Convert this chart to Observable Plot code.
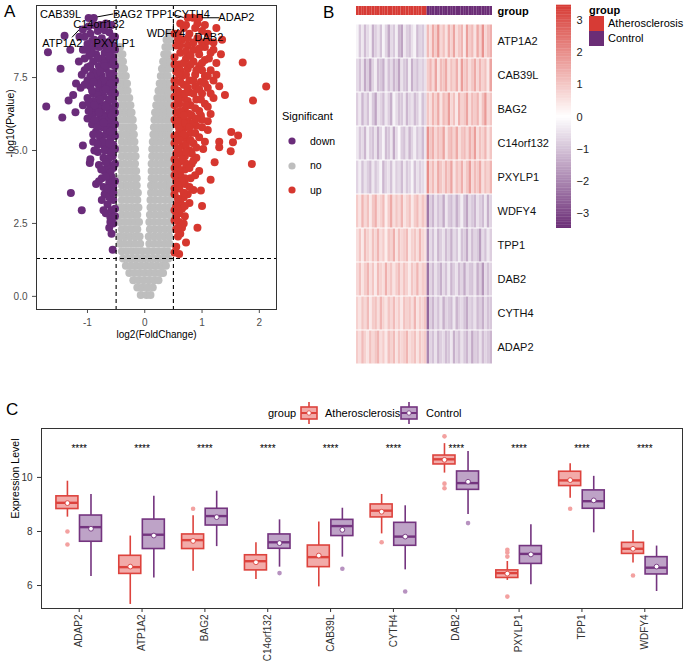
<!DOCTYPE html>
<html><head><meta charset="utf-8">
<script src="https://cdn.jsdelivr.net/npm/d3@7"></script>
<script src="https://cdn.jsdelivr.net/npm/@observablehq/plot@0.6"></script>
<style>
body{margin:0;background:#fff;}
#root{position:relative;width:685px;height:662px;overflow:hidden;font-family:'Liberation Sans',Arial,Helvetica,sans-serif;background:#fff;}
#root svg{position:absolute;}
.lab{position:absolute;white-space:nowrap;color:#000;line-height:1;}
</style></head><body><div id="root"></div>
<script>
// ---------------- Panel A: volcano data ----------------
// grey ("no") points: each row = [-log10(P), log2FC values...]
const greyRows = [
 [0.05,-0.07,0.03,0.1],
 [0.3,-0.13,-0.04,0.05,0.14],
 [0.55,-0.2,-0.11,-0.02,0.07,0.16,0.24],
 [0.8,-0.27,-0.18,-0.09,0.0,0.09,0.18,0.27,0.32],
 [1.05,-0.33,-0.24,-0.15,-0.06,0.03,0.12,0.21,0.3,0.37],
 [1.3,-0.38,-0.29,-0.2,-0.11,-0.02,0.07,0.16,0.25,0.34,0.41],
 [1.55,-0.4,-0.31,-0.22,-0.13,-0.04,0.05,0.14,0.23,0.32,0.4],
 [1.8,-0.43,-0.35,-0.26,-0.17,-0.08,0.08,0.17,0.26,0.35,0.43],
 [2.05,-0.44,-0.35,-0.26,-0.17,-0.09,0.07,0.16,0.25,0.34,0.43],
 [2.3,-0.4,-0.31,-0.22,-0.13,0.09,0.18,0.27,0.36,0.44],
 [2.55,-0.44,-0.35,-0.26,-0.17,-0.1,0.08,0.16,0.25,0.34,0.43],
 [2.8,-0.4,-0.31,-0.22,-0.13,0.09,0.18,0.27,0.36,0.44],
 [3.05,-0.44,-0.35,-0.26,-0.17,-0.11,0.1,0.16,0.25,0.34,0.43],
 [3.3,-0.4,-0.31,-0.22,-0.13,0.1,0.18,0.27,0.36,0.44],
 [3.55,-0.44,-0.35,-0.26,-0.17,-0.12,0.11,0.19,0.28,0.36,0.43],
 [3.8,-0.4,-0.31,-0.22,-0.14,0.11,0.18,0.27,0.36,0.44],
 [4.05,-0.44,-0.35,-0.26,-0.17,-0.14,0.12,0.19,0.28,0.36,0.43],
 [4.3,-0.4,-0.31,-0.22,-0.15,0.12,0.2,0.28,0.36,0.44],
 [4.55,-0.44,-0.35,-0.26,-0.17,0.12,0.2,0.28,0.36,0.43],
 [4.8,-0.4,-0.31,-0.23,-0.16,0.13,0.21,0.29,0.37,0.44],
 [5.05,-0.44,-0.35,-0.26,-0.17,0.13,0.2,0.28,0.36,0.43],
 [5.3,-0.4,-0.31,-0.24,-0.18,0.14,0.21,0.29,0.37,0.44],
 [5.55,-0.44,-0.35,-0.27,-0.19,0.15,0.22,0.3,0.37,0.43],
 [5.8,-0.4,-0.32,-0.25,-0.2,0.16,0.23,0.3,0.37,0.44],
 [6.05,-0.44,-0.36,-0.28,-0.21,0.17,0.24,0.31,0.38,0.43],
 [6.3,-0.41,-0.33,-0.26,-0.23,0.18,0.25,0.32,0.38,0.44],
 [6.55,-0.44,-0.36,-0.28,-0.25,0.2,0.27,0.33,0.39,0.43],
 [6.8,-0.41,-0.34,-0.27,0.22,0.28,0.34,0.4,0.44],
 [7.05,-0.44,-0.37,-0.3,0.24,0.3,0.36,0.41],
 [7.3,-0.42,-0.36,-0.31,0.26,0.32,0.38,0.44],
 [7.55,-0.44,-0.38,-0.33,0.28,0.34,0.4],
 [7.8,-0.42,-0.36,0.3,0.36,0.42],
 [8.05,-0.44,-0.38,0.32,0.38,0.44],
 [8.3,-0.42,-0.39,0.34,0.4],
 [8.55,-0.43,0.36,0.42],
 [8.8,0.38,0.44],
 [9.0,0.42]
];
// down-regulated points [log2FC, -log10P]
const downPairs = [
 [-0.98,9.54],[-0.89,9.54],[-0.82,9.1],[-0.7,9.12],[-0.62,9.05],[-0.95,9.0],[-1.05,8.9],[-1.14,8.9],[-1.4,8.93],[-1.3,8.45],
 [-0.56,8.9],[-0.75,8.85],[-0.88,8.8],[-0.66,8.7],[-0.55,8.6],[-1.0,8.65],[-0.92,8.5],[-0.8,8.55],[-0.6,8.4],[-0.7,8.35],
 [-1.08,8.45],[-0.85,8.3],[-0.97,8.25],[-0.55,8.2],[-0.65,8.1],[-0.75,8.15],[-1.05,8.15],[-1.15,8.05],[-0.9,8.05],[-0.58,7.95],
 [-0.8,7.9],[-1.0,7.85],[-0.68,7.8],[-0.9,7.7],[-1.1,7.6],[-0.55,7.65],[-0.75,7.55],[-0.62,7.45],[-0.85,7.45],[-1.0,7.4],
 [-0.95,7.2],[-0.7,7.25],[-0.55,7.2],[-0.8,7.1],[-1.12,7.15],[-0.6,7.0],[-0.9,6.95],[-0.72,6.85],[-1.0,6.8],[-0.55,6.75],
 [-0.82,6.65],[-0.65,6.6],[-0.95,6.5],[-1.08,6.55],[-0.58,6.4],[-0.75,6.4],[-0.88,6.3],[-0.68,6.2],[-0.55,6.1],[-0.8,6.05],
 [-1.0,6.1],[-0.92,5.9],[-0.62,5.9],[-0.74,5.8],[-0.55,5.7],[-0.85,5.65],[-0.68,5.55],[-0.6,5.4],[-0.78,5.4],[-0.9,5.3],
 [-0.55,5.2],[-0.7,5.15],[-0.62,5.0],[-0.82,4.95],[-0.56,4.8],[-0.72,4.75],[-0.95,4.7],[-0.64,4.55],[-0.8,4.5],[-0.55,4.4],
 [-0.7,4.3],[-0.58,4.1],[-0.75,4.05],[-0.62,3.9],[-0.55,3.75],[-0.72,3.75],[-0.85,3.85],[-0.6,3.55],[-0.7,3.5],[-0.55,3.3],
 [-0.65,3.15],[-0.58,2.95],[-0.72,2.95],[-0.6,2.7],[-0.55,2.5],[-0.62,2.35],[-0.58,2.15],[-0.56,1.6],
 [-0.52,8.9],[-0.6,8.75],[-0.72,8.6],[-0.85,8.65],[-0.95,8.35],[-0.62,8.25],[-0.52,8.45],[-0.72,8.0],[-0.52,7.9],[-0.85,7.65],
 [-0.95,7.55],[-0.62,7.65],[-0.52,7.4],[-0.72,7.4],[-0.82,7.3],[-0.62,7.2],[-0.52,6.95],[-0.72,7.05],[-0.82,6.9],[-0.62,6.75],
 [-0.9,6.7],[-0.52,6.55],[-0.72,6.55],[-0.62,6.4],[-0.82,6.45],[-0.52,6.3],[-0.92,6.2],[-0.72,6.15],[-0.62,6.05],[-0.52,5.9],
 [-0.82,5.85],[-0.66,5.7],[-0.52,5.5],[-0.8,5.55],[-0.72,5.3],[-0.52,5.05],[-0.62,4.75],[-0.52,4.55],[-0.66,4.4],[-0.52,3.95],
 [-0.65,3.7],[-0.52,3.0],[-0.52,2.75],
 [-0.58,9.3],[-0.68,9.35],[-0.78,9.3],[-0.88,9.3],[-0.98,9.25],[-1.08,9.15],
 [-0.55,8.05],[-0.65,8.5],[-0.78,8.75],[-0.92,8.75],[-1.02,8.45],[-0.82,8.15],[-0.7,7.9],[-0.78,7.7],[-0.95,7.9],[-1.05,7.75],
 [-0.6,7.3],[-0.9,7.35],[-1.05,7.25],[-0.68,7.1],[-0.92,7.05],[-0.78,6.75],[-0.98,6.65],[-0.68,6.5],[-0.88,6.55],[-0.58,6.2],
 [-0.8,6.3],[-0.98,6.35],[-0.88,6.05],[-0.72,5.95],[-0.6,5.65],[-0.9,5.55],[-0.62,5.25],[-0.82,5.2],[-0.7,5.0],[-0.58,4.95],[-0.88,5.0],
 [-0.68,4.6],[-0.76,4.35],[-0.6,4.25],[-0.68,4.1],[-0.8,3.95],[-0.58,3.6],[-0.62,3.4],[-0.75,3.3],[-0.55,3.55],[-0.68,2.85],[-0.6,2.55],
 [-1.69,8.37],[-1.47,7.8],[-1.72,6.51],[-1.33,6.71],[-1.44,6.13],[-1.21,6.31],[-1.29,3.54],[-1.1,2.95],[-0.96,4.57],[-1.08,5.17],
 [-1.2,7.3],[-1.25,6.9]
];
// up-regulated points [log2FC, -log10P]
const upPairs = [
 [0.75,9.55],[0.84,9.55],[0.95,9.55],[0.68,9.2],[0.88,9.2],[1.0,9.1],[0.58,9.0],[0.78,9.0],[1.1,9.0],[0.65,8.8],
 [0.92,8.85],[1.2,8.7],[0.55,8.6],[0.75,8.6],[1.05,8.55],[0.85,8.45],[0.62,8.35],[0.95,8.3],[1.15,8.35],[0.52,8.2],
 [0.72,8.15],[1.05,8.1],[0.85,8.05],[1.25,8.0],[0.6,7.95],[0.95,7.9],[0.75,7.8],[1.15,7.75],[0.55,7.7],[0.88,7.6],
 [1.05,7.55],[0.65,7.55],[0.78,7.4],[0.52,7.4],[0.98,7.35],[1.2,7.4],[0.68,7.25],[0.88,7.2],[1.1,7.15],[0.58,7.05],
 [0.78,7.0],[1.0,6.95],[0.52,6.85],[0.68,6.8],[0.9,6.75],[1.2,6.8],[0.6,6.6],[0.8,6.55],[1.05,6.6],[0.7,6.4],
 [0.95,6.35],[0.55,6.3],[0.82,6.2],[1.15,6.25],[0.62,6.1],[0.75,6.0],[1.0,6.05],[0.55,5.9],[0.9,5.85],[0.68,5.75],
 [0.8,5.6],[1.1,5.7],[0.58,5.55],[0.72,5.4],[0.95,5.45],[0.52,5.25],[0.85,5.25],[0.65,5.15],[0.78,5.0],[1.02,5.05],
 [0.55,4.9],[0.7,4.8],[0.9,4.75],[0.6,4.6],[0.82,4.55],[0.52,4.4],[0.7,4.35],[0.95,4.3],[0.62,4.15],[0.8,4.05],
 [0.55,3.95],[0.7,3.85],[0.6,3.7],[0.85,3.65],[0.52,3.5],[0.68,3.4],[0.78,3.2],[0.58,3.2],[0.65,3.0],[0.52,2.95],
 [0.7,2.75],[0.6,2.55],[0.55,2.3],[0.65,2.35],[0.58,2.05],[0.72,1.85],[0.55,1.7],[0.6,1.45],[0.52,1.5],
 [0.52,9.0],[0.62,8.6],[0.85,8.7],[1.0,8.7],[0.72,8.4],[0.52,7.95],[0.8,7.95],[0.62,7.75],[1.0,7.75],[0.72,7.6],
 [0.52,7.15],[0.62,6.95],[0.85,6.95],[0.75,6.7],[0.52,6.55],[0.62,6.35],[0.88,6.45],[0.52,6.05],[0.68,5.95],[0.85,5.95],
 [0.62,5.7],[0.52,5.5],[0.72,5.2],[0.62,4.9],[0.82,4.9],[0.52,4.7],[0.72,4.55],[0.6,4.35],[0.52,4.15],[0.7,4.05],
 [0.6,3.9],[0.52,3.7],[0.75,3.5],[0.62,3.25],[0.55,3.1],[0.52,2.6],[0.62,2.15],
 [0.62,9.35],[0.72,9.3],[0.92,9.35],[1.05,9.3],[0.58,8.8],[0.75,8.85],[1.1,8.75],[0.95,8.5],[1.2,8.45],[0.8,8.25],[1.12,8.15],[0.68,8.0],[1.0,8.0],
 [0.9,7.75],[1.1,7.55],[1.25,7.6],[0.6,7.6],[0.85,7.4],[0.62,7.35],[1.05,7.3],[0.75,7.15],[0.95,7.1],[1.15,6.95],[0.7,6.95],[0.58,6.75],[0.98,6.75],
 [1.1,6.5],[0.72,6.55],[0.78,6.25],[0.98,6.2],[0.68,6.2],[0.9,6.1],[0.58,6.0],[1.1,6.0],[0.78,5.8],[1.0,5.8],[0.6,5.75],[0.88,5.6],[0.68,5.55],
 [0.8,5.35],[1.05,5.3],[0.6,5.35],[0.9,5.1],[0.58,5.05],[0.72,4.95],[0.65,4.7],[0.85,4.65],[0.78,4.4],[0.55,4.55],[0.88,4.15],[0.65,3.95],
 [0.58,3.8],[0.78,3.75],[0.68,3.55],[0.58,3.35],[0.7,3.1],[0.6,2.85],[0.55,2.75],[0.68,2.5],[0.58,2.35],
 [2.12,7.19],[1.89,6.71],[1.71,8.02],[1.33,8.3],[1.87,4.54],[1.5,4.97],[1.54,5.28],[1.3,5.3],[1.22,4.6],[0.98,3.63],
 [0.92,2.35],[1.51,5.63],[1.63,5.51],[1.3,5.11],[1.4,6.9],[1.3,7.2],[1.35,8.8],[1.25,9.2],[1.15,4.0],[1.0,3.1]
];
const volcLabels = ["CAB39L","BAG2","C14orf132","ATP1A2","PXYLP1","TPP1","CYTH4","ADAP2","WDFY4","DAB2"];
const volcLabelX = [-1.47,-0.30,-0.80,-1.44,-0.53,0.25,0.82,1.60,0.37,1.12];
const volcLabelY = [9.66,9.66,9.32,8.66,8.66,9.66,9.66,9.55,9.0,8.87];
const segX1 = [-0.83,-1.27,0.49,1.0,0.5];
const segY1 = [9.58,8.88,9.66,9.55,9.12];
const segX2 = [-0.55,-1.15,0.68,1.3,0.5];
const segY2 = [9.68,9.13,9.56,9.55,9.35];
const pCut = 1.3, fcCut = [-0.5, 0.5];
const xTicksA = [-1, 0, 1, 2];
const yTicksA = [0, 2.5, 5, 7.5];
const sigLevels = ["down", "no", "up"];

// ---------------- Panel B: heatmap data (z-scores) ----------------
const heatGenes = ["ATP1A2","CAB39L","BAG2","C14orf132","PXYLP1","WDFY4","TPP1","DAB2","CYTH4","ADAP2"];
const heatAth = [
 [-0.2,-0.9,-0.4,-1.1,-0.6,-0.3,-1.3,-0.8,-0.5,-1.0,-0.2,-0.7,-1.4,-0.6,-0.9,-0.3,-1.2,-1.5,-0.4,-0.8,-1.0,-0.5,-0.2,-1.1,-0.7,-0.9,-0.4],
 [-0.6,-1.0,-0.5,-1.4,-0.8,-1.6,-0.7,-0.3,-1.1,-0.9,-1.3,-0.4,-1.0,-0.6,-1.2,-0.8,-1.5,-0.5,-0.9,-1.1,-0.3,-1.3,-0.7,-1.0,-0.6,-0.8,-0.5],
 [-0.8,-0.4,-1.2,-0.6,-1.0,-0.3,-0.9,-1.5,-0.5,-0.7,-1.1,-0.4,-0.8,-1.3,-0.2,-0.6,-1.0,-0.9,-0.4,-1.2,-0.7,-0.5,-1.1,-0.8,-0.3,-1.0,-0.6],
 [-0.4,-0.9,-0.6,-1.2,-0.3,-0.8,-1.0,-0.5,-1.3,-0.7,-0.2,-1.1,-0.9,-0.4,-1.4,-0.6,-0.1,-0.8,-1.0,-0.5,-1.2,-0.7,-0.3,-0.9,-0.6,-1.1,-0.4],
 [-0.7,-0.3,-1.0,-0.5,-0.8,-1.1,-0.4,-0.9,-0.6,-0.2,-1.2,-0.7,-0.5,-1.0,-0.3,-0.8,-0.6,-1.1,-0.4,-0.9,-0.7,-0.2,-1.0,-0.5,-0.8,-0.6,-0.3],
 [0.9,0.5,1.3,0.7,1.1,0.4,1.0,1.4,0.6,0.8,1.2,0.3,0.9,1.5,0.6,1.0,0.7,1.3,0.5,0.8,1.1,0.4,0.9,1.2,0.6,1.0,0.7],
 [0.6,1.0,0.4,1.2,0.8,0.5,1.1,0.7,1.3,0.6,0.9,0.3,1.0,0.8,1.4,0.5,1.1,0.7,0.9,1.2,0.4,0.8,1.0,0.6,1.3,0.7,0.5],
 [0.7,1.1,0.5,0.9,1.3,0.6,1.0,0.4,1.2,0.8,0.6,1.4,0.7,1.0,0.5,0.9,1.2,0.6,1.1,0.8,0.4,1.0,0.7,1.3,0.6,0.9,0.8],
 [0.8,0.5,1.0,0.7,1.2,0.4,0.9,1.1,0.6,1.3,0.8,0.5,1.0,0.7,1.2,0.6,0.9,0.4,1.1,0.8,1.0,0.6,1.3,0.5,0.9,0.7,1.0],
 [0.9,0.6,1.2,0.8,0.5,1.1,0.7,1.0,1.3,0.6,0.9,0.4,1.1,0.8,1.2,0.5,1.0,0.7,0.9,1.3,0.6,0.8,1.1,0.5,1.0,0.7,0.9]
];
const heatCtl = [
 [1.2,0.6,1.5,0.9,1.8,0.7,1.1,0.5,1.4,0.8,1.6,0.6,1.0,1.3,0.4,1.7,0.9,1.2,0.5,1.5,0.8,1.9,0.7,1.1,1.4],
 [0.9,1.3,0.7,1.6,0.5,1.2,1.0,1.5,0.6,1.1,0.8,1.4,0.5,1.7,0.9,1.2,0.6,1.0,1.5,0.7,1.3,0.8,1.1,0.4,1.6],
 [1.0,0.6,1.3,0.8,1.5,0.5,1.2,0.9,1.7,0.7,1.1,0.4,1.4,0.8,1.0,1.6,0.6,1.2,0.9,1.3,0.5,1.1,1.8,0.7,1.0],
 [1.9,1.0,1.4,0.7,1.2,0.9,1.6,0.5,1.1,1.3,0.8,1.5,0.6,1.0,1.2,0.7,1.4,0.9,1.7,0.6,1.1,0.8,1.3,0.5,1.0],
 [2.0,0.8,1.2,0.6,1.5,1.0,0.7,1.3,0.9,1.6,0.5,1.1,0.8,1.4,0.6,1.0,1.7,0.7,1.2,0.9,1.5,0.6,1.1,0.8,1.3],
 [-2.2,-0.8,-1.2,-0.5,-1.0,-0.7,-1.4,-0.4,-0.9,-1.1,-0.6,-1.3,-0.8,-0.3,-1.0,-1.5,-0.6,-0.9,-1.2,-0.5,-0.8,-1.1,-0.4,-1.3,-0.7],
 [-1.9,-0.6,-1.0,-0.4,-1.2,-0.8,-0.5,-1.1,-0.7,-1.3,-0.6,-0.9,-0.3,-1.0,-0.8,-1.4,-0.5,-1.1,-0.7,-0.9,-1.6,-0.6,-1.0,-0.4,-0.8],
 [-2.3,-0.7,-1.1,-0.5,-0.9,-1.3,-0.6,-1.0,-0.4,-1.2,-0.8,-0.5,-1.1,-0.7,-1.4,-0.6,-0.9,-1.0,-0.5,-1.3,-0.8,-1.7,-0.6,-1.0,-0.7],
 [-2.5,-0.8,-1.2,-0.6,-1.0,-0.5,-1.3,-0.7,-0.9,-1.1,-0.4,-1.2,-0.8,-0.6,-1.0,-1.4,-0.7,-0.9,-0.5,-1.1,-0.8,-1.3,-0.6,-1.0,-0.9],
 [-2.0,-0.7,-1.0,-0.5,-1.2,-0.8,-0.6,-1.1,-0.9,-0.4,-1.3,-0.7,-1.0,-0.5,-0.9,-1.2,-0.6,-1.4,-0.8,-1.0,-0.5,-1.1,-0.7,-0.9,-1.2]
];
const groups = ["Atherosclerosis", "Control"];
const cbTicks = [-3, -2, -1, 0, 1, 2, 3];

// ---------------- Panel C: boxplot summary data ----------------
const genesC = ["ADAP2","ATP1A2","BAG2","C14orf132","CAB39L","CYTH4","DAB2","PXYLP1","TPP1","WDFY4"];
const athLo   = [8.53,5.30,6.53,6.22,5.95,7.91,10.16,6.19,9.23,6.83];
const athQ1   = [8.83,6.43,7.35,6.56,6.68,8.52,10.48,6.28,9.68,7.17];
const athMed  = [9.06,6.68,7.68,6.90,7.05,8.77,10.67,6.46,9.89,7.36];
const athQ3   = [9.30,7.10,7.89,7.12,7.48,9.00,10.81,6.56,10.21,7.58];
const athHi   = [9.86,7.83,8.58,7.58,8.35,9.37,11.25,6.89,10.51,8.04];
const athMean = [9.05,6.70,7.65,6.86,7.11,8.73,10.65,6.44,9.90,7.36];
const athOut  = [[8.0,7.52],[],[8.84],[],[],[7.60],[11.52,9.77,9.60],[7.32,7.22,7.07,5.59],[8.84],[6.37]];
const ctlLo   = [6.33,6.28,7.44,6.68,7.05,6.58,8.63,6.03,7.95,5.78];
const ctlQ1   = [7.62,7.35,8.22,7.36,7.83,7.47,9.54,6.80,8.84,6.41];
const ctlMed  = [8.16,7.88,8.57,7.60,8.20,7.81,9.79,7.17,9.12,6.66];
const ctlQ3   = [8.59,8.44,8.84,7.89,8.43,8.32,10.22,7.46,9.52,7.05];
const ctlHi   = [9.37,9.30,9.49,8.43,8.86,8.95,10.96,8.25,10.04,7.46];
const ctlMean = [8.10,7.85,8.53,7.57,8.06,7.81,9.84,7.15,9.15,6.70];
const ctlOut  = [[],[],[],[6.46],[6.62],[5.78],[8.31],[],[],[]];
const sigLabel = "****";
const sigLevelY = 11.05;
const yTicksC = [6, 8, 10];
const xTicksC = [1,2,3,4,5,6,7,8,9,10];

// ---------------- styling ----------------
const FONT = "'Liberation Sans', Arial, Helvetica, sans-serif";
const PUR = "#6A2C7A", RED = "#D6372F", GREY = "#BEBEBE";
const HRED = "#D73B35", HPUR = "#6B2D76";
const C_RED_S = "#DD433D", C_RED_F = "#F2ABA9", C_RED_O = "#F3A1A0";
const C_PUR_S = "#74347F", C_PUR_F = "#BEA3C7", C_PUR_O = "#B792C0";
const root = document.getElementById("root");
function put(el, left, top){ el.style.position="absolute"; el.style.left=left+"px"; el.style.top=top+"px"; root.appendChild(el); return el; }
function lab(text, left, top, size, extra){ const d=document.createElement("div"); d.className="lab"; d.textContent=text; d.style.fontSize=size+"px"; if(extra) Object.assign(d.style, extra); return put(d,left,top); }
const baseStyle = {fontFamily: FONT, fontSize: "10px", background: "none", overflow: "visible", color: "#4d4d4d"};

// ---------------- Panel A ----------------
const greyPts = greyRows.flatMap(([v, ...xs]) => xs.map(x => ({x, y: v})));
const downPts = downPairs.map(([x, y]) => ({x, y}));
const upPts = upPairs.map(([x, y]) => ({x, y}));
const vLab = volcLabels.map((t, i) => ({t, x: volcLabelX[i], y: volcLabelY[i]}));
const segs = segX1.map((_, i) => ({x1: segX1[i], y1: segY1[i], x2: segX2[i], y2: segY2[i]}));
const A = Plot.plot({
  width: 280, height: 345, marginLeft: 36, marginRight: 4, marginTop: 5, marginBottom: 36,
  style: baseStyle,
  x: {domain: [-1.89, 2.3], ticks: xTicksA, tickFormat: d => String(d), tickSize: 4, label: null},
  y: {domain: [-0.45, 9.97], ticks: yTicksA, tickFormat: d3.format(".1f"), tickSize: 4, label: null},
  marks: [
    Plot.dot(greyPts, {x: "x", y: "y", r: 4, fill: GREY}),
    Plot.dot(downPts, {x: "x", y: "y", r: 4, fill: PUR}),
    Plot.dot(upPts, {x: "x", y: "y", r: 4, fill: RED}),
    Plot.ruleY([pCut], {stroke: "#000", strokeWidth: 1.1, strokeDasharray: "4,3"}),
    Plot.ruleX(fcCut, {stroke: "#000", strokeWidth: 1.1, strokeDasharray: "4,3"}),
    Plot.link(segs, {x1: "x1", y1: "y1", x2: "x2", y2: "y2", stroke: "#000", strokeWidth: 1}),
    Plot.text(vLab, {x: "x", y: "y", text: "t", fontSize: 11, fill: "#000"}),
    Plot.frame({stroke: "#333"}),
    Plot.text(["log2(FoldChange)"], {text: d => d, frameAnchor: "bottom", dy: 28, fontSize: 10, fill: "#000"}),
    Plot.text(["-log10(Pvalue)"], {text: d => d, frameAnchor: "left", rotate: -90, dx: -26, fontSize: 10.5, fill: "#000"})
  ]
});
put(A, 0, 0);
lab("A", 4, 3, 17);
// Significant legend
lab("Significant", 282, 111, 11);
const sigCols = [PUR, GREY, RED];
sigLevels.forEach((s, i) => {
  const y = 141 + i * 24.5;
  const svg = document.createElementNS("http://www.w3.org/2000/svg", "svg");
  svg.setAttribute("width", 10); svg.setAttribute("height", 10);
  svg.innerHTML = `<circle cx="5" cy="5" r="3.6" fill="${sigCols[i]}"/>`;
  put(svg, 287, y - 5);
  lab(s, 310, y - 5.5, 10.5);
});

// ---------------- Panel B ----------------
const nAth = heatAth[0].length, nCtl = heatCtl[0].length, nCol = nAth + nCtl;
const colDomain = d3.range(nCol);
const heat = heatGenes.flatMap((g, gi) => [
  ...heatAth[gi].map((v, j) => ({g, col: j, v})),
  ...heatCtl[gi].map((v, j) => ({g, col: nAth + j, v}))
]);
const colGroup = colDomain.map(c => ({col: c, grp: c < nAth ? groups[0] : groups[1]}));
const colorOpt = {type: "linear", domain: [-3.45, 0, 3.45], range: [HPUR, "#FFFFFF", HRED]};
const Bgrp = Plot.plot({
  width: 196, height: 9, marginLeft: 0, marginRight: 60, marginTop: 0, marginBottom: 0,
  style: {...baseStyle, fontSize: "11px", color: "#000"},
  x: {type: "band", domain: colDomain, padding: 0, axis: null},
  y: {type: "band", domain: ["group"], padding: 0, axis: "right", tickSize: 0, tickPadding: 5, label: null},
  color: {type: "ordinal", domain: groups, range: [HRED, HPUR]},
  marks: [Plot.cell(colGroup, {x: "col", y: () => "group", fill: "grp"})]
});
Bgrp.querySelectorAll("text").forEach(t => t.setAttribute("font-weight", "bold"));
put(Bgrp, 356, 6);
const B = Plot.plot({
  width: 196, height: 346, marginLeft: 0, marginRight: 60, marginTop: 0, marginBottom: 0,
  style: {...baseStyle, fontSize: "11px", color: "#111"},
  x: {type: "band", domain: colDomain, padding: 0, axis: null},
  y: {type: "band", domain: heatGenes, padding: 0, axis: "right", tickSize: 0, tickPadding: 5, label: null},
  color: colorOpt,
  marks: [Plot.cell(heat, {x: "col", y: "g", fill: "v", insetTop: 0.5, insetBottom: 0.5})]
});
put(B, 356, 21);
lab("B", 323, 4, 17);
// colour bar
const rampStep = 0.05;
const ramp = d3.range(-3.45, 3.45, rampStep);
const minusFmt = d => d < 0 ? "\u2212" + Math.abs(d) : String(d);
const CB = Plot.plot({
  width: 60, height: 233, marginLeft: 6, marginRight: 39, marginTop: 5, marginBottom: 5,
  style: {...baseStyle, fontSize: "11px", color: "#222"},
  x: {domain: [0, 1], axis: null},
  y: {domain: [-3.45, 3.45], ticks: cbTicks, tickFormat: minusFmt, tickSize: 0, tickPadding: 5, axis: "right", label: null},
  color: colorOpt,
  marks: [Plot.rect(ramp, {x1: () => 0, x2: () => 1, y1: d => d, y2: d => d + rampStep + 0.01, fill: d => d + rampStep / 2})]
});
put(CB, 550, 0);
// group legend
lab("group", 589, 5, 11, {fontWeight: "bold"});
[HRED, HPUR].forEach((c, i) => {
  const d = document.createElement("div");
  d.style.width = "15px"; d.style.height = "15px"; d.style.background = c;
  put(d, 589, 16 + i * 15);
  lab(groups[i], 608, 18 + i * 15, 11);
});

// ---------------- Panel C ----------------
const boxes = genesC.flatMap((g, i) => [
  {g, i: i + 1, off: -0.1875, grp: groups[0], lo: athLo[i], q1: athQ1[i], med: athMed[i], q3: athQ3[i], hi: athHi[i], mean: athMean[i]},
  {g, i: i + 1, off: 0.1875, grp: groups[1], lo: ctlLo[i], q1: ctlQ1[i], med: ctlMed[i], q3: ctlQ3[i], hi: ctlHi[i], mean: ctlMean[i]}
]);
const outs = genesC.flatMap((g, i) => [
  ...athOut[i].map(v => ({i: i + 1, off: -0.1875, grp: groups[0], v})),
  ...ctlOut[i].map(v => ({i: i + 1, off: 0.1875, grp: groups[1], v}))
]);
const hw = 0.175;
function boxMarks(grp, stroke, fill, outFill) {
  const b = boxes.filter(d => d.grp === grp), o = outs.filter(d => d.grp === grp);
  const cx = d => d.i + d.off;
  return [
    Plot.ruleX(b, {x: cx, y1: "lo", y2: "q1", stroke, strokeWidth: 1.6}),
    Plot.ruleX(b, {x: cx, y1: "q3", y2: "hi", stroke, strokeWidth: 1.6}),
    Plot.rect(b, {x1: d => cx(d) - hw, x2: d => cx(d) + hw, y1: "q1", y2: "q3", fill, stroke, strokeWidth: 1.6}),
    Plot.ruleY(b, {y: "med", x1: d => cx(d) - hw, x2: d => cx(d) + hw, stroke, strokeWidth: 2.4}),
    Plot.dot(o, {x: cx, y: "v", r: 2.3, fill: outFill}),
    Plot.dot(b, {x: cx, y: "mean", r: 2.4, fill: "white", stroke, strokeWidth: 0.9})
  ];
}
const C = Plot.plot({
  width: 685, height: 262, marginLeft: 41, marginRight: 3, marginTop: 28, marginBottom: 54,
  style: {...baseStyle, fontSize: "10px", color: "#333"},
  x: {domain: [0.4, 10.6], ticks: xTicksC, tickFormat: i => genesC[i - 1], tickRotate: -90, tickSize: 4, tickPadding: 2, label: null},
  y: {domain: [5.15, 11.81], ticks: yTicksC, tickFormat: d => String(d), tickSize: 4, label: null},
  marks: [
    ...boxMarks(groups[0], C_RED_S, C_RED_F, C_RED_O),
    ...boxMarks(groups[1], C_PUR_S, C_PUR_F, C_PUR_O),
    Plot.text(genesC, {x: (d, i) => i + 1, y: () => sigLevelY, text: () => sigLabel, fontSize: 10, fill: "black"}),
    Plot.frame({stroke: "#333"}),
    Plot.text(["Expression Level"], {text: d => d, frameAnchor: "left", rotate: -90, dx: -26, fontSize: 10.5, fill: "#000"})
  ]
});
put(C, 0, 400);
lab("C", 6, 401, 17);
// group legend for panel C
lab("group", 268, 408, 11);
function keyIcon(stroke, fill) {
  const svg = document.createElementNS("http://www.w3.org/2000/svg", "svg");
  svg.setAttribute("width", 20); svg.setAttribute("height", 24);
  svg.innerHTML = `<line x1="10" x2="10" y1="1" y2="23" stroke="${stroke}" stroke-width="1.6"/>
    <rect x="2" y="6" width="16" height="12" fill="${fill}" stroke="${stroke}" stroke-width="1.6"/>
    <line x1="2" x2="18" y1="12" y2="12" stroke="${stroke}" stroke-width="2"/>
    <circle cx="10" cy="12" r="2.2" fill="white" stroke="${stroke}" stroke-width="0.8"/>`;
  return svg;
}
put(keyIcon(C_RED_S, C_RED_F), 299, 401);
lab(groups[0], 325, 408, 11);
put(keyIcon(C_PUR_S, C_PUR_F), 399, 401);
lab(groups[1], 426, 408, 11);
</script></body></html>
